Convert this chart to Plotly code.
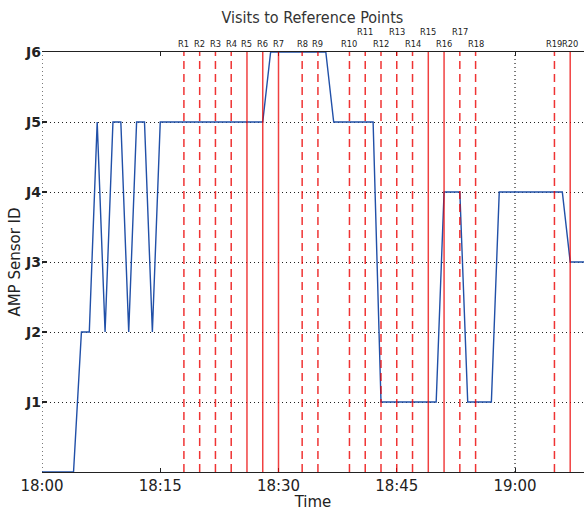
import plotly.graph_objects as go

# ---- data ----
day = "2014-01-01 "
visit_times = ["18:00", "18:04", "18:05", "18:06", "18:07", "18:08", "18:09", "18:10",
               "18:11", "18:12", "18:13", "18:14", "18:15", "18:28", "18:29", "18:36",
               "18:37", "18:42", "18:43", "18:50", "18:51", "18:53", "18:54", "18:57",
               "18:58", "19:06", "19:07", "19:09"]
sensor_ids = [0, 0, 2, 2, 5, 2, 5, 5,
              2, 5, 5, 2, 5, 5, 6, 6,
              5, 5, 1, 1, 4, 4, 1, 1,
              4, 4, 3, 3]

ref_names = ["R1", "R2", "R3", "R4", "R5", "R6", "R7", "R8", "R9", "R10",
             "R11", "R12", "R13", "R14", "R15", "R16", "R17", "R18", "R19", "R20"]
ref_times = ["18:18", "18:20", "18:22", "18:24", "18:26", "18:28", "18:30", "18:33", "18:35", "18:39",
             "18:41", "18:43", "18:45", "18:47", "18:49", "18:51", "18:53", "18:55", "19:05", "19:07"]
ref_kind = ["dash", "dash", "dash", "dash", "solid", "solid", "solid", "dash", "dash", "dash",
            "dash", "dash", "dash", "dash", "solid", "solid", "dash", "dash", "dash", "solid"]
ref_label_row = [0, 0, 0, 0, 0, 0, 0, 0, 0, 0,
                 1, 0, 1, 0, 1, 0, 1, 0, 0, 0]

y_tickvals = [0, 1, 2, 3, 4, 5, 6]
y_ticktext = ["", "<b>J1</b>", "<b>J2</b>", "<b>J3</b>", "<b>J4</b>", "<b>J5</b>", "<b>J6</b>"]
x_tickvals = ["18:00", "18:15", "18:30", "18:45", "19:00"]
x_gridvals = ["18:00", "19:00"]

x_start = day + "18:00"
x_end = day + "19:08:45"

font_main = "DejaVu Sans"

fig = go.Figure()

# reference lines
shapes = []
for t, kind in zip(ref_times, ref_kind):
    shapes.append(dict(
        type="line", xref="x", yref="paper", x0=day + t, x1=day + t, y0=0, y1=1,
        line=dict(color="rgba(235,0,0,0.75)" if kind == "solid" else "rgba(235,0,0,0.8)",
                  width=1.5, dash="solid" if kind == "solid" else "8px,5px"),
        layer="above"))
for g in x_gridvals:
    shapes.append(dict(
        type="line", xref="x", yref="paper", x0=day + g, x1=day + g, y0=0, y1=1,
        line=dict(color="#222", width=1.2, dash="1px,3px"), layer="below"))

fig.add_trace(go.Scatter(
    x=[day + t for t in visit_times], y=sensor_ids, mode="lines",
    line=dict(color="#2150a8", width=1.4), cliponaxis=False, showlegend=False,
    hoverinfo="skip"))

annotations = []
for name, t, row in zip(ref_names, ref_times, ref_label_row):
    annotations.append(dict(
        x=day + t, xref="x", y=1, yref="paper", text=name, showarrow=False,
        xanchor="center", yanchor="bottom", yshift=1 + 12 * row,
        font=dict(family=font_main, size=8.3, color="#222")))

fig.update_layout(
    width=584, height=511,
    margin=dict(l=42, r=0, t=52, b=39, autoexpand=False),
    paper_bgcolor="white", plot_bgcolor="white",
    title=dict(text="Visits to Reference Points", x=0.535, xanchor="center",
               y=1 - 17 / 511, yanchor="middle", yref="container",
               font=dict(family="DejaVu Sans Condensed, DejaVu Sans", size=16, color="#333")),
    shapes=shapes, annotations=annotations,
    xaxis=dict(
        type="date", range=[x_start, x_end], automargin=False,
        tickvals=[day + t for t in x_tickvals], ticktext=x_tickvals,
        ticks="inside", ticklen=4, tickcolor="#222", tickwidth=1,
        showline=True, linecolor="#222", linewidth=1.2, mirror="ticks",
        showgrid=False, zeroline=False,
        tickfont=dict(family=font_main, size=15, color="#222"),
        title=dict(text="Time", standoff=5, font=dict(family=font_main, size=15, color="#222")),
    ),
    yaxis=dict(
        range=[0, 6], tickvals=y_tickvals, ticktext=y_ticktext, automargin=False,
        ticks="inside", ticklen=5, tickcolor="#222", tickwidth=1.5,
        showline=False, showgrid=True, gridcolor="#222", gridwidth=1.1, griddash="1px,3px",
        zeroline=False,
        tickfont=dict(family=font_main, size=14, color="#222"),
        title=dict(text="AMP Sensor ID", standoff=0, font=dict(family=font_main, size=15, color="#222")),
    ),
)

fig.write_html("out.html", config={"displayModeBar": False},
               post_script="document.body.style.margin='0px';document.body.style.overflow='hidden';")
